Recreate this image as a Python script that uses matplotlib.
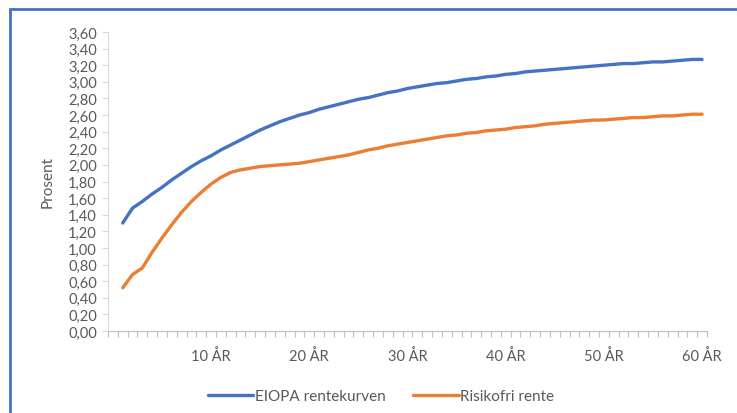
import matplotlib.pyplot as plt
import numpy as np
from matplotlib.patches import Rectangle
from matplotlib.ticker import FuncFormatter, FixedLocator

plt.rcParams['font.family'] = ['Lato', 'DejaVu Sans']

# data: years 1..60
years = list(range(1, 61))
eiopa = [1.30, 1.48, 1.56, 1.65, 1.73, 1.82, 1.90, 1.98, 2.05, 2.11,
         2.18, 2.24, 2.30, 2.36, 2.42, 2.47, 2.52, 2.56, 2.60, 2.63,
         2.67, 2.70, 2.73, 2.76, 2.79, 2.81, 2.84, 2.87, 2.89, 2.92,
         2.94, 2.96, 2.98, 2.99, 3.01, 3.03, 3.04, 3.06, 3.07, 3.09,
         3.10, 3.12, 3.13, 3.14, 3.15, 3.16, 3.17, 3.18, 3.19, 3.20,
         3.21, 3.22, 3.22, 3.23, 3.24, 3.24, 3.25, 3.26, 3.27, 3.27]
risikofri = [0.52, 0.68, 0.76, 0.95, 1.12, 1.28, 1.43, 1.56, 1.67, 1.77,
             1.85, 1.91, 1.94, 1.96, 1.98, 1.99, 2.00, 2.01, 2.02, 2.04,
             2.06, 2.08, 2.10, 2.12, 2.15, 2.18, 2.20, 2.23, 2.25, 2.27,
             2.29, 2.31, 2.33, 2.35, 2.36, 2.38, 2.39, 2.41, 2.42, 2.43,
             2.45, 2.46, 2.47, 2.49, 2.50, 2.51, 2.52, 2.53, 2.54, 2.54,
             2.55, 2.56, 2.57, 2.57, 2.58, 2.59, 2.59, 2.60, 2.61, 2.61]
tick_years = [10, 20, 30, 40, 50, 60]
tick_labels = ['10 ÅR', '20 ÅR', '30 ÅR', '40 ÅR', '50 ÅR', '60 ÅR']

txt = '#595959'
fig = plt.figure(figsize=(7.37, 4.14), dpi=100)
ax = fig.add_axes([108/737, 1-332/414, 599/737, 299/414])

ax.plot(years, eiopa, color='#4472C4', lw=2.4, label='EIOPA rentekurven', solid_capstyle='round')
ax.plot(years, risikofri, color='#ED7D31', lw=2.4, label='Risikofri rente', solid_capstyle='round')

ax.set_xlim(-0.5, 60.5)
ax.set_ylim(0, 3.6)
ax.set_yticks(np.arange(0, 3.61, 0.2))
ax.yaxis.set_major_formatter(FuncFormatter(lambda v, p: ('%.2f' % v).replace('.', ',')))
ax.set_xticks(tick_years)
ax.set_xticklabels(tick_labels)
ax.xaxis.set_minor_locator(FixedLocator(np.arange(-0.5, 61, 1)))
ax.tick_params(axis='x', which='major', length=0, pad=12, labelsize=10.5, labelcolor=txt)
ax.tick_params(axis='x', which='minor', length=4, color='#BFBFBF', width=0.8)
ax.tick_params(axis='y', length=4, color='#D9D9D9', width=0.8, labelsize=10.5, labelcolor=txt, pad=4)

for s in ['top', 'right']:
    ax.spines[s].set_visible(False)
ax.spines['left'].set_color('#D9D9D9')
ax.spines['bottom'].set_color('#BFBFBF')
ax.set_ylabel('Prosent', fontsize=11, color=txt, labelpad=10)

fig.legend(loc='center', bbox_to_anchor=(381/737, 1-397/414), ncol=2, frameon=False,
           fontsize=11, labelcolor=txt, handlelength=3.0, handletextpad=0.1, columnspacing=1.8)

# blue frame around the chart
fig.patches.append(Rectangle((9.5/737, -0.1), 1.2, 1.1 - 10.5/414, transform=fig.transFigure,
                             fill=False, edgecolor='#4472C4', lw=2))

fig.savefig('out.png', dpi=100)
